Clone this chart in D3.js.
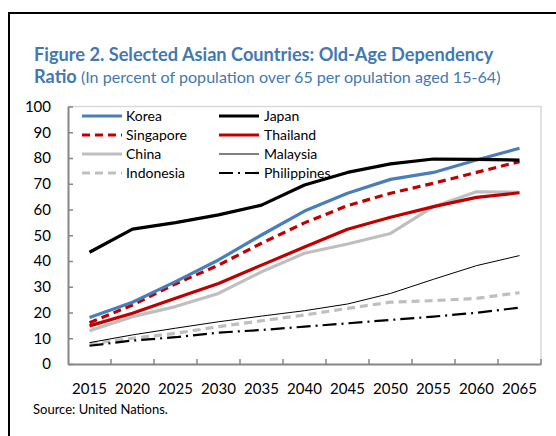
<!DOCTYPE html>
<html><head><meta charset="utf-8">
<script src="https://cdn.jsdelivr.net/npm/d3@7"></script>
<style>html,body{margin:0;padding:0;background:#fff;} svg{display:block;font-family:Lato,"Open Sans",sans-serif;}</style>
</head><body>
<script>
const years = ["2015","2020","2025","2030","2035","2040","2045","2050","2055","2060","2065"];
const yTicks = [0,10,20,30,40,50,60,70,80,90,100];
const korea       = [18.1,24.0,32.0,40.4,50.1,59.4,66.3,71.7,74.4,79.2,83.8];
const japan       = [43.4,52.4,54.9,57.9,61.7,69.5,74.4,77.7,79.6,79.5,79.2];
const singapore   = [16.0,22.9,31.1,38.4,46.9,54.8,61.5,66.3,70.2,74.4,78.6];
const thailand    = [14.8,19.7,25.5,31.3,38.4,45.4,52.3,57.0,61.1,64.7,66.5];
const china       = [12.9,18.4,22.3,27.4,35.8,43.0,46.6,50.7,61.1,66.9,66.7];
const malaysia    = [8.3,11.3,13.9,16.4,18.6,20.7,23.3,27.4,32.9,38.2,42.1];
const indonesia   = [7.8,10.0,11.9,14.5,16.8,19.0,21.6,24.0,24.6,25.5,27.7];
const philippines = [7.1,9.1,10.4,12.2,13.2,14.5,15.8,17.1,18.4,19.9,21.9];

const series = [
  {name:"Korea", values:korea, color:"#4a7ebb", width:3.2, dash:null},
  {name:"Japan", values:japan, color:"#000000", width:3.2, dash:null},
  {name:"Singapore", values:singapore, color:"#c00000", width:3.2, dash:"8,5"},
  {name:"Thailand", values:thailand, color:"#c00000", width:3.2, dash:null},
  {name:"China", values:china, color:"#bfbfbf", width:3.2, dash:null},
  {name:"Malaysia", values:malaysia, color:"#000000", width:1, dash:null},
  {name:"Indonesia", values:indonesia, color:"#bfbfbf", width:3.2, dash:"8,5"},
  {name:"Philippines", values:philippines, color:"#000000", width:2.2, dash:"14,5,2,5"}
];

const W=556,H=436;
const svg=d3.select("body").append("svg").attr("width",W).attr("height",H);
svg.append("rect").attr("width",W).attr("height",H).attr("fill","#fff");
// outer frame (clipped at right & bottom)
svg.append("path").attr("d","M9,437 L9,13 L557,13").attr("fill","none").attr("stroke","#000").attr("stroke-width",2);

const titleColor="#4379b0";
svg.append("text").attr("x",34).attr("y",61).attr("fill",titleColor)
  .attr("font-weight","bold").attr("font-size",18.2).text("Figure 2. Selected Asian Countries: Old-Age Dependency");
const t2=svg.append("text").attr("x",34).attr("y",83).attr("fill",titleColor).attr("font-size",18.2);
t2.append("tspan").attr("font-weight","bold").text("Ratio");
t2.append("tspan").attr("font-size",16.1).text(" (In percent of population over 65 per opulation aged 15-64)");

const pL=68,pR=541,pT=106.5,pB=364;
const x=d3.scaleBand().domain(years).range([pL,pR]);
const y=d3.scaleLinear().domain([0,100]).range([pB,pT]);

// plot area border
svg.append("path").attr("d",`M${pL},${pT} L${pR},${pT} L${pR},${pB}`)
  .attr("fill","none").attr("stroke","#d9d9d9").attr("stroke-width",1.5);

// y axis
const yAxis=svg.append("g").attr("transform",`translate(${pL},0)`)
  .call(d3.axisLeft(y).tickValues(yTicks).tickSizeInner(-5).tickSizeOuter(0).tickPadding(17));
yAxis.select(".domain").attr("stroke","#868686").attr("stroke-width",2);
yAxis.selectAll(".tick line").attr("stroke","#868686").attr("stroke-width",1.5);
yAxis.selectAll(".tick text").attr("font-size",15).attr("fill","#000").attr("font-family","Lato");

// x axis
const xAxis=svg.append("g").attr("transform",`translate(0,${pB})`)
  .call(d3.axisBottom(x).tickSize(0).tickPadding(19));
xAxis.select(".domain").attr("stroke","#868686").attr("stroke-width",2);
xAxis.selectAll(".tick text").attr("font-size",15).attr("fill","#000").attr("font-family","Lato");
// ticks between categories
const bounds=years.map(d=>x(d)).slice(1).concat([pR]);
svg.append("g").selectAll("line").data(bounds).join("line")
  .attr("x1",d=>d).attr("x2",d=>d).attr("y1",pB).attr("y2",pB-5)
  .attr("stroke","#868686").attr("stroke-width",1.5);

const line=d3.line().x((d,i)=>x(years[i])+x.bandwidth()/2).y(d=>y(d));
const order=["Indonesia","Philippines","Malaysia","China","Thailand","Singapore","Korea","Japan"];
order.forEach(n=>{
  const s=series.find(q=>q.name===n);
  svg.append("path").datum(s.values).attr("d",line).attr("fill","none")
    .attr("stroke",s.color).attr("stroke-width",s.width)
    .attr("stroke-dasharray",s.dash).attr("stroke-linejoin","round");
});

// legend
const legRows=[116,135,154,173];
const legCols=[{x1:82,x2:122,tx:126},{x1:219,x2:259,tx:264}];
series.forEach((s,i)=>{
  const c=legCols[i%2], ry=legRows[Math.floor(i/2)];
  svg.append("line").attr("x1",c.x1).attr("x2",c.x2).attr("y1",ry).attr("y2",ry)
    .attr("stroke",s.color).attr("stroke-width",s.width).attr("stroke-dasharray",s.dash);
  svg.append("text").attr("x",c.tx).attr("y",ry+5).attr("font-size",14).attr("fill","#000").text(s.name);
});

svg.append("text").attr("x",33).attr("y",414).attr("font-size",13).attr("fill","#000").text("Source: United Nations.");
</script>
</body></html>
